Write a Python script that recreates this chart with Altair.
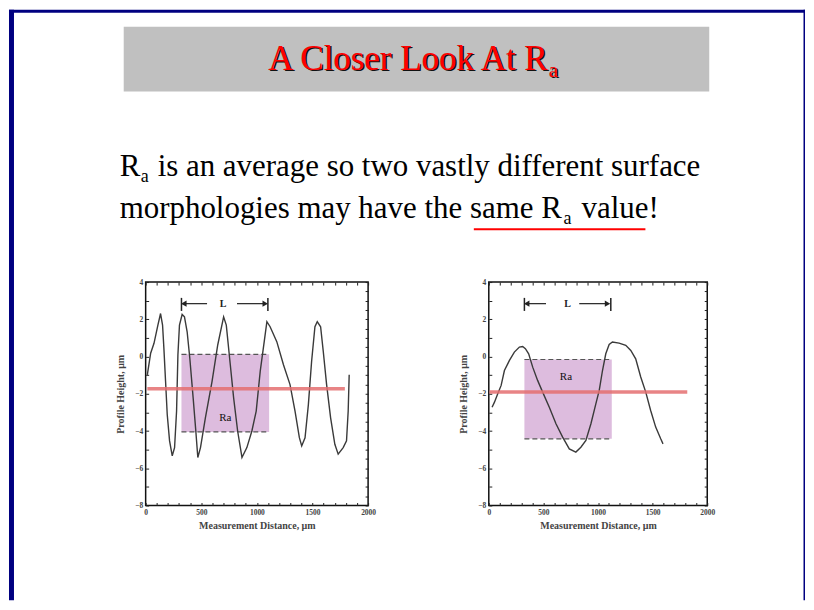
import altair as alt
import pandas as pd

# ---------------- data ----------------
# left panel: profile, distance (um) and height (um)
P1_X = [15, 45, 75, 110, 134, 152, 164, 179, 194, 215, 239, 260, 278, 290, 304, 328, 349, 373,
        397, 427, 451, 469, 493, 537, 597, 648, 701, 725, 761, 791, 827, 866, 910, 955, 994,
        1030, 1066, 1090, 1119, 1179, 1239, 1298, 1343, 1382, 1403, 1433, 1463, 1492, 1522,
        1543, 1573, 1597, 1627, 1663, 1701, 1731, 1776, 1806, 1821, 1830]
P1_Y = [-0.98, 0.18, 0.71, 1.69, 2.31, 1.69, 0.44, -1.33, -3.11, -4.53, -5.33, -4.89, -2.93,
        0.09, 1.69, 2.26, 2.13, 1.33, -0.09, -2.22, -4.0, -5.42, -4.89, -3.29, -1.33, 0.62,
        2.13, 1.69, -0.44, -2.22, -4.0, -5.42, -4.89, -4.0, -2.93, -0.8, 0.8, 1.87, 1.6, 0.8,
        -0.44, -1.51, -2.93, -4.36, -4.8, -4.36, -2.58, -0.27, 1.6, 1.87, 1.6, 0.27, -1.51,
        -3.29, -4.71, -5.24, -4.89, -4.53, -2.93, -0.98]
# right panel profile
P2_X = [30, 52, 82, 113, 143, 189, 234, 280, 310, 335, 365, 402, 447, 493, 554, 615, 676, 737,
        797, 843, 889, 935, 980, 1011, 1041, 1071, 1102, 1132, 1193, 1254, 1300, 1345, 1391,
        1437, 1482, 1528, 1574, 1595]
P2_Y = [-2.72, -2.45, -2.0, -1.55, -0.75, -0.21, 0.24, 0.51, 0.54, 0.42, 0.15, -0.57, -1.28,
        -1.91, -2.72, -3.61, -4.33, -4.96, -5.13, -4.87, -4.51, -3.61, -2.54, -1.82, -0.75,
        0.15, 0.65, 0.78, 0.72, 0.6, 0.33, -0.12, -1.10, -1.91, -2.90, -3.79, -4.42, -4.69]

# mean lines, Ra boxes, sampling length L, "Ra" label positions
P1_MEAN_Y = -1.73
P1_MEAN_X = [15, 1791]
P1_BOX_X = [322, 1110]
P1_BOX_Y = [-4.05, 0.12]
P1_L_BARS = [322, 1099]
P1_L_SHAFT_LEFT = [343, 552]
P1_L_SHAFT_RIGHT = [821, 1075]
P1_L_TEXT_X = 695
P1_RA = [716, -3.29]

P2_MEAN_Y = -1.91
P2_MEAN_X = [6, 1817]
P2_BOX_X = [326, 1126]
P2_BOX_Y = [-4.42, -0.16]
P2_L_BARS = [326, 1117]
P2_L_SHAFT_LEFT = [347, 524]
P2_L_SHAFT_RIGHT = [828, 1087]
P2_L_TEXT_X = 722
P2_RA = [706, -1.10]

L_Y = 2.84
L_BAR_Y = [2.45, 3.15]

X_DOMAIN = [0, 2000]
Y_DOMAIN = [-8, 4]
X_TICKS = list(range(0, 2001, 100))
Y_TICKS = [v / 2 for v in range(-16, 9)]

X_TITLE = "Measurement Distance, µm"
Y_TITLE = "Profile Height, µm"

TITLE = "A Closer Look At R"
SUB = "a"
LINE1 = "is an average so two vastly different surface"
LINE2 = "morphologies may have the same R"
LINE2_END = "value!"

SERIF = "Liberation Serif"
NAVY = "#000080"
RED_LINE = "#E46E70"
BOX_FILL = "#D9B5DA"

xscale = alt.Scale(domain=X_DOMAIN, nice=False, zero=False)
yscale = alt.Scale(domain=Y_DOMAIN, nice=False, zero=False)

tick_common = dict(domain=False, tickSize=3, offset=-3, tickColor="#222", tickWidth=1,
                   labelOverlap=False, labelFlush=False, grid=False)


def axis_bottom():
    return alt.Axis(orient="bottom", values=X_TICKS, format="d",
                    labelExpr="datum.value % 500 === 0 ? datum.label : ''",
                    title=X_TITLE, labelPadding=3, titlePadding=5, **tick_common)


def axis_left():
    return alt.Axis(orient="left", values=Y_TICKS, format="d",
                    labelExpr="datum.value % 2 === 0 ? datum.label : ''",
                    title=Y_TITLE, labelPadding=3, titlePadding=9, **tick_common)


def axis_top():
    return alt.Axis(orient="top", values=X_TICKS, labels=False, title=None, **tick_common)


def axis_right():
    return alt.Axis(orient="right", values=Y_TICKS, labels=False, title=None, **tick_common)


def panel(xs, ys, mean_y, mean_x, box_x, box_y, bars, shaft_l, shaft_r, l_text_x, ra):
    curve = pd.DataFrame({"x": xs, "y": ys})
    box = pd.DataFrame({"x0": [box_x[0]], "x1": [box_x[1]], "y0": [box_y[0]], "y1": [box_y[1]]})
    edges = pd.DataFrame({"x0": [box_x[0]] * 2, "x1": [box_x[1]] * 2, "y": box_y})
    mean = pd.DataFrame({"x0": [mean_x[0]], "x1": [mean_x[1]], "y": [mean_y]})
    lbars = pd.DataFrame({"x": bars, "y0": [L_BAR_Y[0]] * 2, "y1": [L_BAR_Y[1]] * 2})
    shafts = pd.DataFrame({"x0": [shaft_l[0], shaft_r[0]], "x1": [shaft_l[1], shaft_r[1]],
                           "y": [L_Y, L_Y]})
    headl = pd.DataFrame({"x": [shaft_l[0]], "y": [L_Y]})
    headr = pd.DataFrame({"x": [shaft_r[1]], "y": [L_Y]})
    ltxt = pd.DataFrame({"x": [l_text_x], "y": [L_Y], "t": ["L"]})
    ratxt = pd.DataFrame({"x": [ra[0]], "y": [ra[1]], "t": ["Ra"]})

    X = lambda f: alt.X(f, scale=xscale, axis=None)
    Y = lambda f: alt.Y(f, scale=yscale, axis=None)

    return [
        alt.Chart(box).mark_rect(color=BOX_FILL, opacity=0.9).encode(
            x=X("x0:Q"), x2="x1:Q", y=Y("y0:Q"), y2="y1:Q"),
        alt.Chart(edges).mark_rule(color="#555", strokeDash=[5, 3], strokeWidth=1.2).encode(
            x=X("x0:Q"), x2="x1:Q", y=Y("y:Q")),
        alt.Chart(curve).mark_line(color="#3a3a3a", strokeWidth=1.4).encode(
            x=alt.X("x:Q", scale=xscale, axis=axis_bottom()),
            y=alt.Y("y:Q", scale=yscale, axis=axis_left())),
        alt.Chart(mean).mark_rule(color=RED_LINE, strokeWidth=3.5, opacity=0.85).encode(
            x=alt.X("x0:Q", scale=xscale, axis=axis_top()), x2="x1:Q",
            y=alt.Y("y:Q", scale=yscale, axis=axis_right())),
        alt.Chart(lbars).mark_rule(color="#222", strokeWidth=1.5).encode(
            x=X("x:Q"), y=Y("y0:Q"), y2="y1:Q"),
        alt.Chart(shafts).mark_rule(color="#222", strokeWidth=1.2).encode(
            x=X("x0:Q"), x2="x1:Q", y=Y("y:Q")),
        alt.Chart(headl).mark_point(shape="triangle-left", filled=True, color="#222", size=40,
                                    opacity=1).encode(x=X("x:Q"), y=Y("y:Q")),
        alt.Chart(headr).mark_point(shape="triangle-right", filled=True, color="#222", size=40,
                                    opacity=1).encode(x=X("x:Q"), y=Y("y:Q")),
        alt.Chart(ltxt).mark_text(font=SERIF, fontSize=10, fontWeight="bold", color="#222").encode(
            x=X("x:Q"), y=Y("y:Q"), text="t:N"),
        alt.Chart(ratxt).mark_text(font=SERIF, fontSize=11, color="#111").encode(
            x=X("x:Q"), y=Y("y:Q"), text="t:N"),
    ]


one = pd.DataFrame({"k": [0]})


def deco_rect(x, x2, y, y2, color):
    return alt.Chart(one).mark_rect(color=color).encode(
        x=alt.value(x), x2=alt.value(x2), y=alt.value(y), y2=alt.value(y2))


def deco_text(txt, x, y, size, color="black"):
    return alt.Chart(one).mark_text(text=txt, align="left", baseline="alphabetic", font=SERIF,
                                    fontSize=size, color=color).encode(
        x=alt.value(x), y=alt.value(y))


# slide decoration, positioned relative to the left panel's plot area
# (left panel plot area starts at page x=145, y=281; the page can hold x <= 806)
header = [
    deco_rect(-137, -132, -273, 319, NAVY),      # left frame bar
    deco_rect(-137, 661, -273, -270, NAVY),      # top frame bar
    deco_rect(659.5, 661, -273, 319, NAVY),      # right frame line
    deco_rect(-22, 565, -256, -191, "#C0C0C0"),  # title band
    deco_text(TITLE, 124.5, -211.5, 35, "#111"),
    deco_text(SUB, 405.5, -204.5, 21, "#111"),
    deco_text(TITLE, 123, -213, 35, "#FF0000"),
    deco_text(SUB, 404, -206, 21, "#FF0000"),
    deco_text("R", -26, -106, 31),
    deco_text(SUB, -5, -100, 18),
    deco_text(LINE1, 12, -106, 31),
    deco_text(LINE2, -26, -64, 31),
    deco_text(SUB, 419, -58, 18),
    deco_text(LINE2_END, 437, -64, 31),
    alt.Chart(one).mark_rule(color="#FF0000", strokeWidth=2).encode(
        x=alt.value(329), x2=alt.value(501), y=alt.value(-53)),
]

p1 = alt.layer(*header, *panel(P1_X, P1_Y, P1_MEAN_Y, P1_MEAN_X, P1_BOX_X, P1_BOX_Y, P1_L_BARS,
                                P1_L_SHAFT_LEFT, P1_L_SHAFT_RIGHT, P1_L_TEXT_X, P1_RA)
               ).resolve_axis(x="independent", y="independent").properties(width=223, height=224)

p2 = alt.layer(*panel(P2_X, P2_Y, P2_MEAN_Y, P2_MEAN_X, P2_BOX_X, P2_BOX_Y, P2_L_BARS,
                      P2_L_SHAFT_LEFT, P2_L_SHAFT_RIGHT, P2_L_TEXT_X, P2_RA)
               ).resolve_axis(x="independent", y="independent").properties(width=219, height=224)

chart = alt.hconcat(p1, p2, spacing=121, bounds="flush").properties(
    padding={"left": 0, "top": 0, "right": 0, "bottom": 0}
).configure_view(stroke="#111", strokeWidth=1.5).configure_axis(
    labelFont=SERIF, labelFontSize=7.5, labelFontWeight="bold", labelColor="#444",
    titleFont=SERIF, titleFontSize=10, titleFontWeight="bold", titleColor="#444"
)

chart.save("out.html", embed_options={"renderer": "svg", "actions": False})
